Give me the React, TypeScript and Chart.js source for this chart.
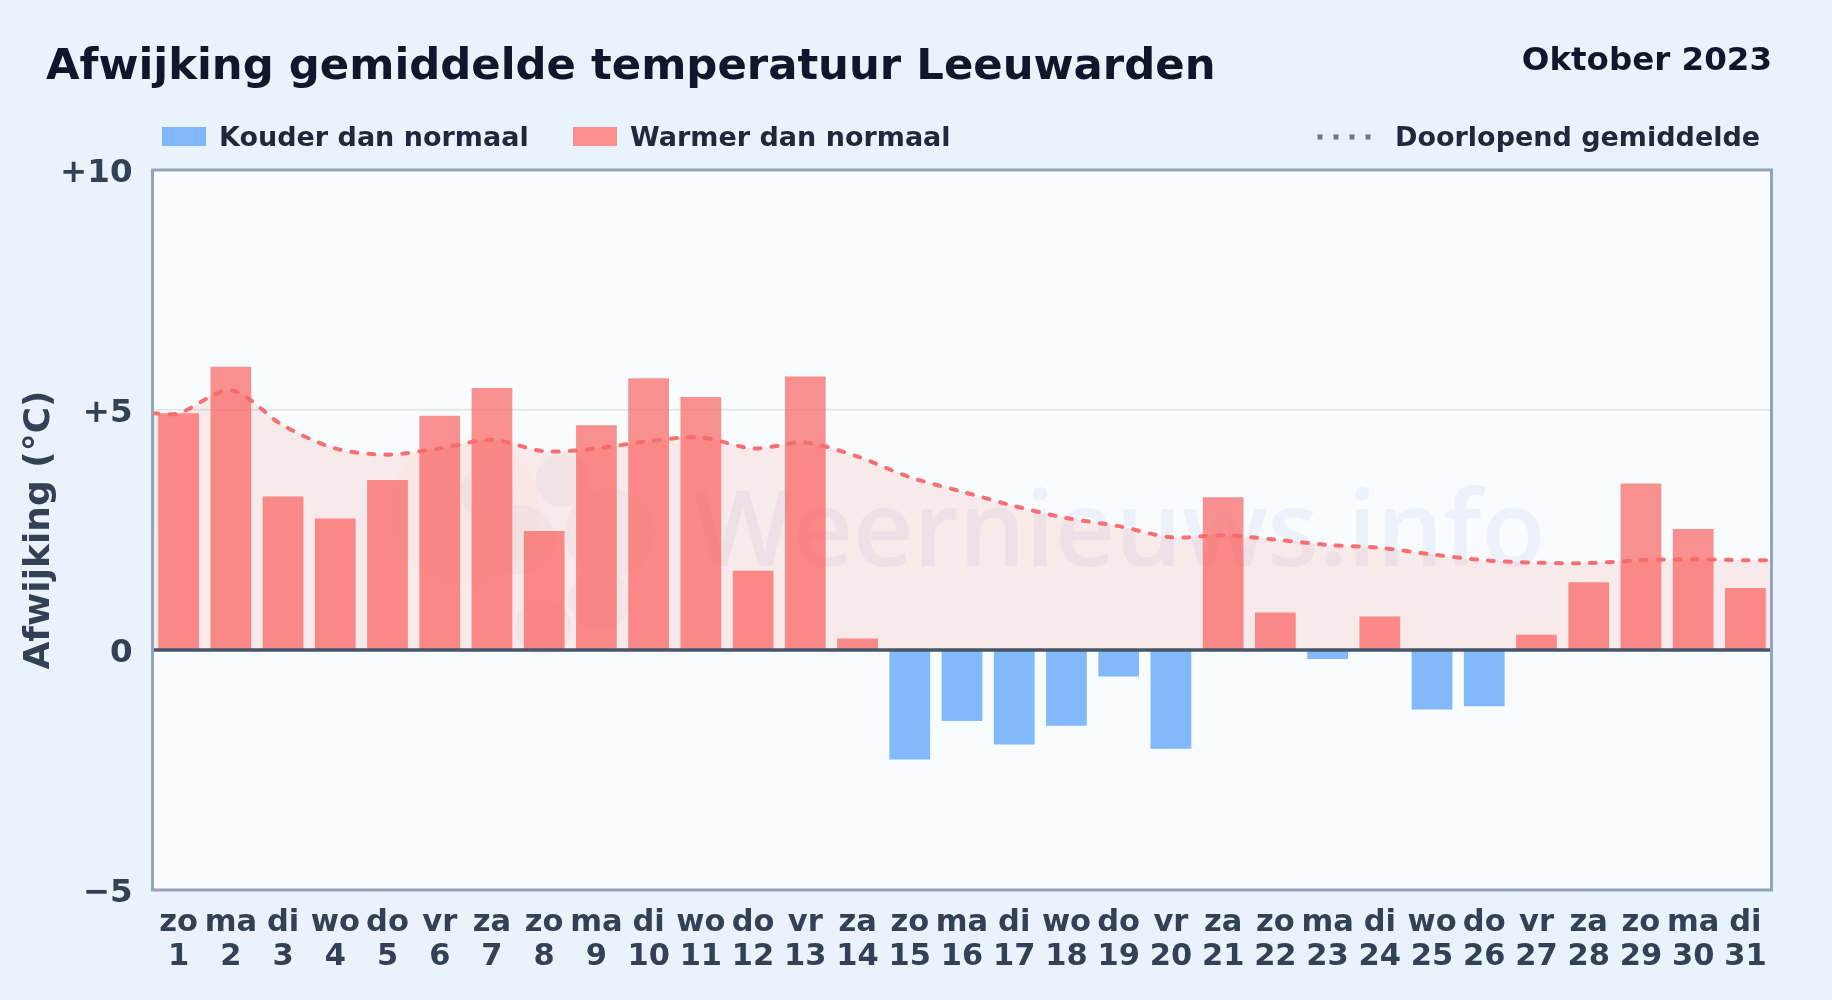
import React, { useEffect, useRef } from "react";
import { Chart, registerables } from "chart.js";

Chart.register(...registerables);

const weekdays = ["zo","ma","di","wo","do","vr","za","zo","ma","di","wo","do","vr","za","zo","ma","di","wo","do","vr","za","zo","ma","di","wo","do","vr","za","zo","ma","di"];
const days = ["1","2","3","4","5","6","7","8","9","10","11","12","13","14","15","16","17","18","19","20","21","22","23","24","25","26","27","28","29","30","31"];
const afwijking = [4.93,5.9,3.2,2.74,3.54,4.88,5.46,2.48,4.68,5.66,5.27,1.65,5.7,0.24,-2.28,-1.48,-1.97,-1.58,-0.55,-2.06,3.18,0.78,-0.19,0.7,-1.24,-1.17,0.32,1.41,3.47,2.52,1.29];
const gemiddelde = [4.93,5.41,4.68,4.2,4.07,4.2,4.38,4.14,4.2,4.35,4.43,4.2,4.32,4.03,3.6,3.3,3.0,2.75,2.58,2.35,2.39,2.3,2.19,2.13,1.99,1.87,1.82,1.81,1.87,1.89,1.87];
const yTicks = [-5, 0, 5, 10];
const yLabels: Record<string, string> = { "-5": "−5", "0": "0", "5": "+5", "10": "+10" };
const logoBlobs = [[-73, -37, 27], [3, -50, 27], [50, 3, 45], [40, 70, 30], [-17, 97, 28], [-40, 10, 35]];

const COLD = "rgba(96,165,250,0.78)";
const WARM = "rgba(248,113,113,0.78)";
const FONT = "'DejaVu Sans'";

const framePlugin = {
  id: "frame",
  beforeDraw(chart: any) {
    const { ctx, chartArea: a } = chart;
    ctx.save();
    ctx.fillStyle = "#f8fcff";
    ctx.fillRect(a.left, a.top, a.width, a.height);
    ctx.restore();
  },
  beforeDatasetsDraw(chart: any) {
    const { ctx, chartArea: a } = chart;
    ctx.save();
    const ox = a.left + a.width * 0.2517;
    const oy = a.top + a.height * 0.5;
    const u = a.width / 1619;
    ctx.fillStyle = "rgba(250,204,21,0.03)";
    ctx.beginPath();
    ctx.arc(ox - 95 * u, oy - 20 * u, 75 * u, 0, Math.PI * 2);
    ctx.fill();
    ctx.fillStyle = "rgba(59,90,160,0.045)";
    ctx.beginPath();
    for (const [dx, dy, r] of logoBlobs) {
      ctx.moveTo(ox + (dx + r) * u, oy + dy * u);
      ctx.arc(ox + dx * u, oy + dy * u, r * u, 0, Math.PI * 2);
    }
    ctx.fill();
    ctx.fillStyle = "rgba(70,120,200,0.07)";
    ctx.font = `600 105px 'Open Sans'`;
    ctx.textBaseline = "alphabetic";
    ctx.textAlign = "left";
    ctx.fillText("Weernieuws.info", a.left + a.width * 0.334, a.top + a.height * 0.55);
    ctx.restore();
  },
  afterDatasetsDraw(chart: any) {
    const { ctx, chartArea: a, scales } = chart;
    const y0 = scales.y.getPixelForValue(0);
    ctx.save();
    ctx.strokeStyle = "#475569";
    ctx.lineWidth = 3.5;
    ctx.beginPath();
    ctx.moveTo(a.left, y0);
    ctx.lineTo(a.right, y0);
    ctx.stroke();
    ctx.strokeStyle = "#94a3b8";
    ctx.lineWidth = 3;
    ctx.strokeRect(a.left, a.top, a.width, a.height);
    ctx.restore();
  },
};

const abs = (o: React.CSSProperties): React.CSSProperties => ({
  position: "absolute",
  fontFamily: FONT,
  fontWeight: 700,
  whiteSpace: "nowrap",
  lineHeight: 1,
  ...o,
});

export default function App() {
  const ref = useRef<HTMLCanvasElement | null>(null);
  useEffect(() => {
    document.body.style.margin = "0";
    const chart = new Chart(ref.current as HTMLCanvasElement, {
      type: "bar",
      data: {
        labels: weekdays.map((w, i) => [w, days[i]]),
        datasets: [
          {
            type: "line",
            label: "Doorlopend gemiddelde",
            xAxisID: "x2",
            data: [
              { x: 0.5, y: gemiddelde[0] },
              ...gemiddelde.map((v, i) => ({ x: i + 1, y: v })),
              { x: 31.5, y: gemiddelde[30] },
            ],
            borderColor: "rgba(245,105,105,0.95)",
            backgroundColor: "rgba(255,70,50,0.1)",
            borderWidth: 4,
            borderDash: [6, 11],
            borderCapStyle: "round",
            tension: 0.3,
            pointRadius: 0,
            fill: "origin",
            order: 0,
          },
          {
            type: "bar",
            label: "Afwijking",
            data: afwijking,
            backgroundColor: afwijking.map((v) => (v < 0 ? COLD : WARM)),
            borderWidth: 0,
            barPercentage: 0.78,
            categoryPercentage: 1,
            grouped: false,
            order: 1,
          },
        ],
      } as any,
      options: {
        animation: false,
        responsive: false,
        devicePixelRatio: 1,
        layout: { padding: { left: 0, right: 60.5, top: 170, bottom: 17.7 } },
        plugins: { legend: { display: false }, title: { display: false }, tooltip: { enabled: false } },
        scales: {
          x: {
            type: "category",
            offset: true,
            grid: { display: false },
            border: { display: false },
            ticks: {
              autoSkip: false,
              maxRotation: 0,
              minRotation: 0,
              padding: 8,
              color: "#334155",
              font: { family: FONT, weight: "bold", size: 30.5, lineHeight: 1.12 },
            },
          },
          x2: { type: "linear", display: false, offset: false, min: 0.5, max: 31.5 },
          y: {
            min: -5,
            max: 10,
            afterBuildTicks: (axis: any) => {
              axis.ticks = yTicks.map((value) => ({ value }));
            },
            afterFit: (axis: any) => {
              axis.width = 152.5;
            },
            grid: { color: "#dde4ea", lineWidth: 1.5, drawTicks: false },
            border: { display: false },
            ticks: {
              padding: 20,
              labelOffset: 4,
              color: "#334155",
              font: { family: FONT, weight: "bold", size: 32.5 },
              callback: (v: any) => yLabels[String(v)] ?? "",
            },
            title: {
              display: true,
              text: "Afwijking (°C)",
              color: "#334155",
              font: { family: FONT, weight: "bold", size: 36 },
              padding: { top: 18, bottom: 0 },
            },
          },
        },
      },
      plugins: [framePlugin],
    } as any);
    return () => chart.destroy();
  }, []);

  const legendText: React.CSSProperties = { fontSize: 27, color: "#1e293b", top: 122.5 };
  const swatch = (left: number, color: string) => (
    <div style={{ position: "absolute", left, top: 127, width: 44, height: 19, background: color }} />
  );

  return (
    <div style={{ position: "relative", width: 1832, height: 1000, overflow: "hidden", background: "linear-gradient(135deg,#eaf3fb,#e7f3fd)" }}>
      <canvas ref={ref} width={1832} height={1000} style={{ position: "absolute", left: 0, top: 0, width: 1832, height: 1000 }} />
      <div style={abs({ left: 46, top: 43, fontSize: 43.35, color: "#0f172a" })}>Afwijking gemiddelde temperatuur Leeuwarden</div>
      <div style={abs({ right: 60, top: 43, fontSize: 32.5, color: "#0f172a" })}>Oktober 2023</div>
      {swatch(162, "#82b6fb")}
      <div style={abs({ ...legendText, left: 219 })}>Kouder dan normaal</div>
      {swatch(573, "#f98e8e")}
      <div style={abs({ ...legendText, left: 630 })}>Warmer dan normaal</div>
      <svg style={{ position: "absolute", left: 1316, top: 134, width: 60, height: 6 }}>
        <line x1="1.5" y1="3" x2="58" y2="3" stroke="#6b7789" strokeWidth="5" strokeDasharray="5 11" />
      </svg>
      <div style={abs({ ...legendText, left: 1395 })}>Doorlopend gemiddelde</div>
    </div>
  );
}
